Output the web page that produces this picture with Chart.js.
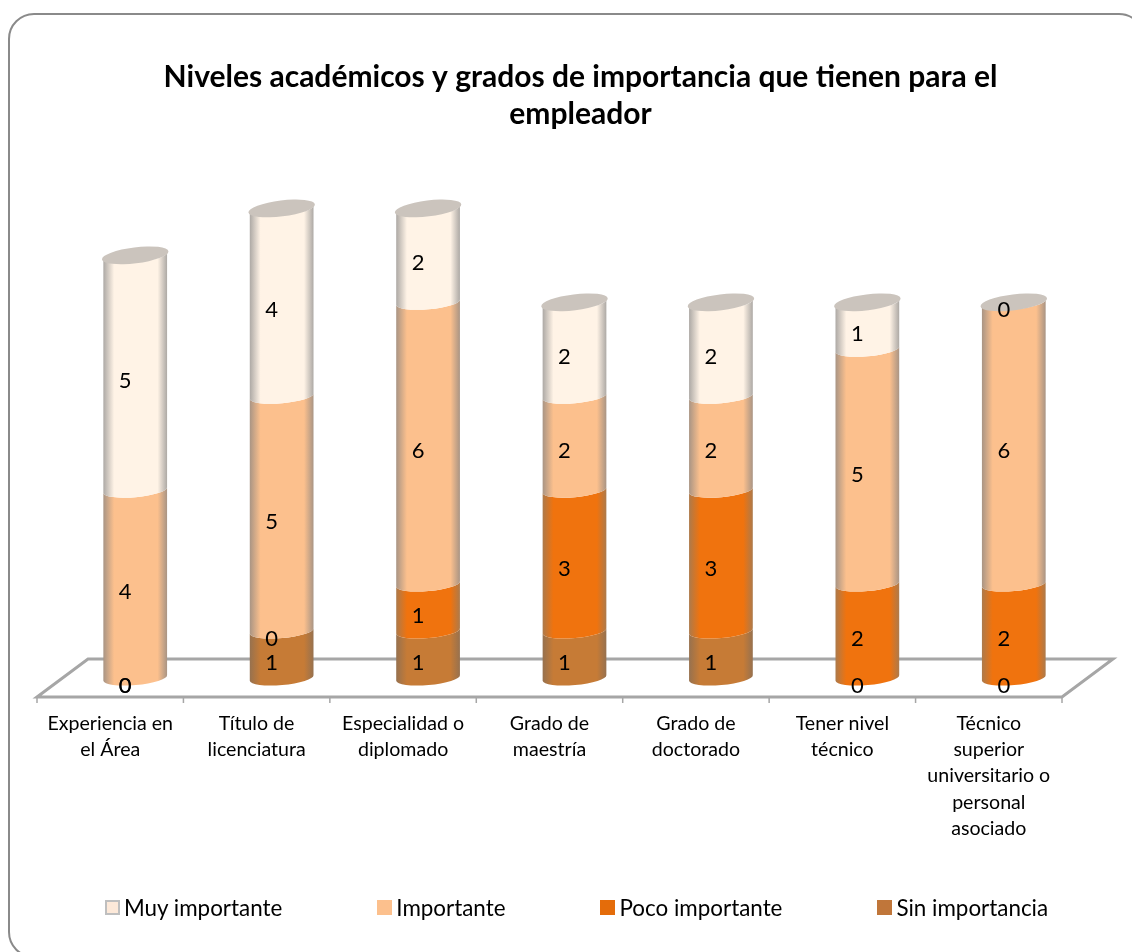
<!DOCTYPE html>
<html lang="es">
<head>
    <meta charset="UTF-8">
    <title>Niveles académicos</title>
    <script src="https://cdn.jsdelivr.net/npm/chart.js"></script>
    <style>
        html, body { margin: 0; padding: 0; background: #fff; overflow: hidden; }
        #wrap { position: relative; width: 1132px; height: 952px; overflow: hidden; }
        #frame { position: absolute; left: 8px; top: 13px; width: 1137px; height: 945px;
                 border: 2px solid #8a8a8a; border-radius: 26px; box-sizing: border-box; }
        #grafico { position: absolute; left: 0; top: 0; }
        #leyenda { position: absolute; left: 105px; top: 893px; display: flex; height: 28px; align-items: center;
                   font: 22.4px Lato, sans-serif; color: #000; white-space: nowrap; }
        #leyenda span.item { display: flex; align-items: center; margin-right: 95px; }
        #leyenda span.caja { width: 15px; height: 15px; margin-right: 4px; box-sizing: border-box; }
    </style>
</head>
<body>
<div id="wrap">
    <div id="frame"></div>
    <canvas id="grafico" width="1132" height="952"></canvas>
    <div id="leyenda"></div>
</div>

<script>
    const categorias = [
        ["Experiencia en", "el Área"],
        ["Título de", "licenciatura"],
        ["Especialidad o", "diplomado"],
        ["Grado de", "maestría"],
        ["Grado de", "doctorado"],
        ["Tener nivel", "técnico"],
        ["Técnico", "superior", "universitario o", "personal", "asociado"]
    ];
    const sinImportancia = [0, 1, 1, 1, 1, 0, 0];
    const pocoImportante = [0, 0, 1, 3, 3, 2, 2];
    const importante = [4, 5, 6, 2, 2, 5, 6];
    const muyImportante = [5, 4, 2, 2, 2, 1, 0];

    const tituloLineas = ["Niveles académicos y grados de importancia que tienen para el", "empleador"];

    // center colour, edge colour of each cylinder, legend swatch
    const colores = {
        "Sin importancia": ["#C67B36", "#96714f", "#C0763A"],
        "Poco importante": ["#F0730E", "#ac7a4c", "#E46C0A"],
        "Importante": ["#FCC08D", "#a89484", "#FCC08D"],
        "Muy importante": ["#FFF3E6", "#aca8a4", "#FDE9D9"]
    };

    function cylinderFill(ctx, x, w, c) {
        const g = ctx.createLinearGradient(x - w / 2, 0, x + w / 2, 0);
        g.addColorStop(0, c[1]);
        g.addColorStop(0.17, c[0]);
        g.addColorStop(0.85, c[0]);
        g.addColorStop(1, c[1]);
        return g;
    }

    const tilt = -5 * Math.PI / 180;
    const ry = 7;

    // floor of the 3d box, behind the bars
    const piso = {
        id: "piso",
        beforeDatasetsDraw(chart) {
            const { ctx, chartArea } = chart;
            const y0 = chart.scales.y.getPixelForValue(0);
            const l = chartArea.left, r = chartArea.right;
            const step = (r - l) / categorias.length;
            ctx.save();
            ctx.strokeStyle = "#a6a6a6";
            ctx.lineWidth = 3;
            ctx.beginPath();
            ctx.moveTo(l - 25, y0 + 19);
            ctx.lineTo(l + 26, y0 - 19);
            ctx.lineTo(r + 26, y0 - 19);
            ctx.lineTo(r - 25, y0 + 19);
            ctx.closePath();
            ctx.stroke();
            ctx.lineWidth = 1.5;
            ctx.beginPath();
            for (let i = 0; i <= categorias.length; i++) {
                ctx.moveTo(l - 25 + i * step, y0 + 19);
                ctx.lineTo(l - 25 + i * step, y0 + 25);
            }
            ctx.stroke();
            ctx.restore();
        }
    };

    // paints the bars as cylinders and writes the values
    const cilindros = {
        id: "cilindros",
        afterLayout(chart) {
            chart.titleBlock.left += 6;
            chart.titleBlock.right += 6;
        },
        afterDatasetsDraw(chart) {
            const ctx = chart.ctx;
            const n = chart.data.labels.length;
            ctx.save();
            ctx.filter = "blur(0.7px)";
            for (let i = 0; i < n; i++) {
                let last = null;
                chart.data.datasets.forEach((ds, d) => {
                    if (!ds.data[i]) return;
                    const bar = chart.getDatasetMeta(d).data[i];
                    const rx = bar.width / 2 + 0.5;
                    const c = colores[ds.label];
                    ctx.fillStyle = cylinderFill(ctx, bar.x, rx * 2, c);
                    ctx.beginPath();
                    ctx.ellipse(bar.x, bar.y, rx, ry, tilt, Math.PI, 2 * Math.PI, true);
                    ctx.ellipse(bar.x, bar.base, rx, ry, tilt, 0, Math.PI);
                    ctx.closePath();
                    ctx.fill();
                    last = { bar, rx };
                });
                if (last) {
                    // lid of the stack
                    ctx.fillStyle = "#cbc4bd";
                    ctx.beginPath();
                    ctx.ellipse(last.bar.x, last.bar.y, last.rx + 1.5, ry + 1, tilt * 1.4, 0, 2 * Math.PI);
                    ctx.fill();
                }
            }
            ctx.filter = "none";
            ctx.fillStyle = "#000";
            ctx.font = "22px Lato, sans-serif";
            ctx.textAlign = "center";
            ctx.textBaseline = "middle";
            chart.data.datasets.forEach((ds, d) => {
                chart.getDatasetMeta(d).data.forEach((bar, i) => {
                    ctx.fillText(ds.data[i], bar.x - 10, (bar.y + bar.base) / 2 + 8);
                });
            });
            ctx.restore();
        }
    };

    // the library's own rectangle stays invisible, the plugin above shades it
    const serie = (label, data) => ({
        label: label,
        data: data,
        backgroundColor: "rgba(0,0,0,0)",
        borderWidth: 0,
        barPercentage: 1,
        categoryPercentage: 0.43
    });

    new Chart(document.getElementById("grafico"), {
        type: "bar",
        data: {
            labels: categorias,
            datasets: [
                serie("Sin importancia", sinImportancia),
                serie("Poco importante", pocoImportante),
                serie("Importante", importante),
                serie("Muy importante", muyImportante)
            ]
        },
        options: {
            responsive: false,
            animation: false,
            layout: { padding: { left: 62, right: 45, top: 0, bottom: 0 } },
            scales: {
                x: {
                    stacked: true,
                    grid: { display: false },
                    border: { display: false },
                    afterFit: s => { s.height = 274; },
                    ticks: {
                        maxRotation: 0,
                        autoSkip: false,
                        labelOffset: -25,
                        padding: 25,
                        color: "#000",
                        font: { family: "Lato", size: 19.6, lineHeight: 1.33 }
                    }
                },
                y: { stacked: true, display: false, min: 0, max: 10 }
            },
            plugins: {
                legend: { display: false },
                tooltip: { enabled: false },
                title: {
                    display: true,
                    text: tituloLineas,
                    color: "#000",
                    font: { family: "Lato", size: 30, weight: "bold", lineHeight: 1.24 },
                    padding: { top: 59, bottom: 75 }
                }
            }
        },
        plugins: [piso, cilindros]
    });

    // legend, first entry on the left like the original
    const leyenda = document.getElementById("leyenda");
    ["Muy importante", "Importante", "Poco importante", "Sin importancia"].forEach(nombre => {
        const item = document.createElement("span");
        item.className = "item";
        const caja = document.createElement("span");
        caja.className = "caja";
        caja.style.background = colores[nombre][2];
        if (nombre === "Muy importante") caja.style.border = "2px solid #bfbfbf";
        item.appendChild(caja);
        item.appendChild(document.createTextNode(nombre));
        leyenda.appendChild(item);
    });
</script>
</body>
</html>
